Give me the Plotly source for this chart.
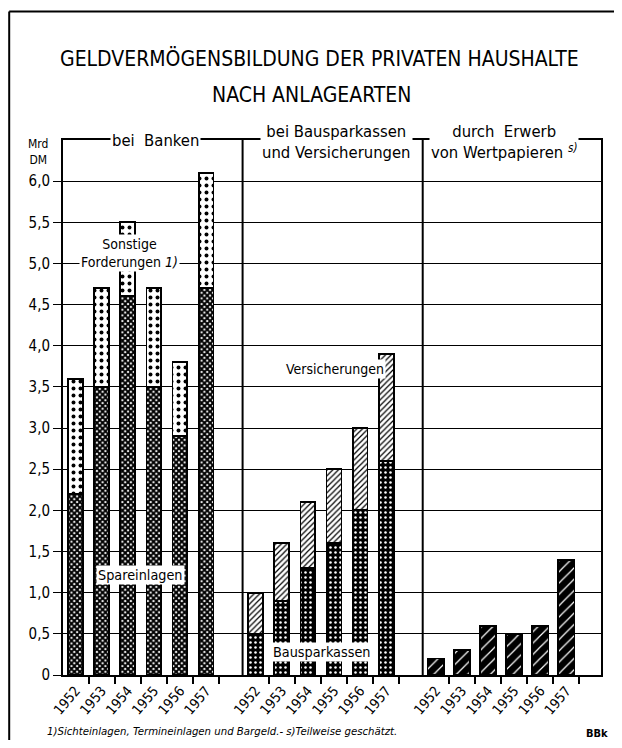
import plotly.graph_objects as go

# ---------------- data ----------------
years = ["1952", "1953", "1954", "1955", "1956", "1957"]
spareinlagen = [2.2, 3.5, 4.6, 3.5, 2.9, 4.7]
sonstige_forderungen = [1.4, 1.2, 0.9, 1.2, 0.9, 1.4]
bausparkassen = [0.5, 0.9, 1.3, 1.6, 2.0, 2.6]
versicherungen = [0.5, 0.7, 0.8, 0.9, 1.0, 1.3]
wertpapiere = [0.2, 0.3, 0.6, 0.5, 0.6, 1.4]
y_tick_values = [0, 0.5, 1.0, 1.5, 2.0, 2.5, 3.0, 3.5, 4.0, 4.5, 5.0, 5.5, 6.0]
y_tick_labels = ["0", "0,5", "1,0", "1,5", "2,0", "2,5", "3,0", "3,5",
                 "4,0", "4,5", "5,0", "5,5", "6,0"]

# ---------------- layout helpers ----------------
group_offsets = [0.0, 6.9, 13.8]
FONT = "DejaVu Sans Condensed, Liberation Sans Narrow, DejaVu Sans, sans-serif"


def positions(g):
    return [group_offsets[g] + i for i in range(len(years))]


pos_bank, pos_mid, pos_wp = positions(0), positions(1), positions(2)
label_pos = pos_bank + pos_mid + pos_wp
tick_pos = [p + 0.5 for p in label_pos]
x_range = [-0.48, 20.13]

W_NARROW = 0.57
W_WIDE = 0.63
outline = dict(color="black", width=1.8)

fig = go.Figure()
fig.add_bar(x=pos_bank, y=spareinlagen, width=W_NARROW, name="Spareinlagen",
            marker=dict(color="white", line=outline,
                        pattern=dict(shape="x", fgcolor="black", bgcolor="white",
                                     size=4, solidity=0.75, fillmode="replace")))
fig.add_bar(x=pos_bank, y=sonstige_forderungen, width=W_NARROW, name="Sonstige Forderungen",
            marker=dict(color="white", line=outline,
                        pattern=dict(shape=".", fgcolor="black", bgcolor="white",
                                     size=7, solidity=0.25, fillmode="replace")))
fig.add_bar(x=pos_mid, y=bausparkassen, width=W_NARROW, name="Bausparkassen",
            marker=dict(color="black", line=outline,
                        pattern=dict(shape=".", fgcolor="white", bgcolor="black",
                                     size=5, solidity=0.2, fillmode="replace")))
fig.add_bar(x=pos_mid, y=versicherungen, width=W_NARROW, name="Versicherungen",
            marker=dict(color="white", line=outline,
                        pattern=dict(shape="/", fgcolor="black", bgcolor="white",
                                     size=4, solidity=0.3, fillmode="replace")))
fig.add_bar(x=pos_wp, y=wertpapiere, width=W_WIDE, name="Wertpapiere",
            marker=dict(color="black", line=outline,
                        pattern=dict(shape="/", fgcolor="white", bgcolor="black",
                                     size=8, solidity=0.15, fillmode="replace")))
# invisible trace so that the tick-mark axis is drawn
fig.add_scatter(x=tick_pos, y=[None] * len(tick_pos), xaxis="x2", mode="markers",
                showlegend=False, hoverinfo="skip")

# the page body has an 8px margin: size the figure so the page does not scroll
fig.update_layout(
    width=606, height=732,
    margin=dict(l=55, r=11, t=132, b=65),
    plot_bgcolor="white", paper_bgcolor="white",
    barmode="stack", showlegend=False,
    font=dict(family=FONT, color="black", size=12),
    xaxis=dict(range=x_range, tickvals=label_pos, ticktext=years * 3, tickangle=-50,
               ticks="", showgrid=False, zeroline=False, showline=True,
               linecolor="black", linewidth=2, mirror=True,
               tickfont=dict(size=14, family=FONT)),
    xaxis2=dict(range=x_range, overlaying="x", anchor="y", side="bottom",
                tickvals=tick_pos, ticks="outside", ticklen=8, tickwidth=1.5,
                tickcolor="black", showticklabels=False, showgrid=False,
                zeroline=False, showline=False),
    yaxis=dict(range=[0, 6.5], tickvals=y_tick_values, ticktext=y_tick_labels,
               ticks="outside", ticklen=8, tickwidth=1, tickcolor="black",
               showgrid=True, gridcolor="black", gridwidth=1, zeroline=False,
               showline=True, linecolor="black", linewidth=2, mirror=True,
               tickfont=dict(size=15, family=FONT)),
)

# group dividers
for off in group_offsets[1:]:
    fig.add_shape(type="line", xref="x", yref="paper", x0=off - 0.5, x1=off - 0.5,
                  y0=0, y1=1, line=dict(color="black", width=2))

# outer frame (top & left)
fig.add_shape(type="line", xref="paper", yref="paper", x0=-0.1, x1=1.05,
              y0=1.24, y1=1.24, line=dict(color="black", width=2))
fig.add_shape(type="line", xref="paper", yref="paper", x0=-0.1, x1=-0.1,
              y0=1.24, y1=-0.2, line=dict(color="black", width=2))


def ann(text, x, y, size=13, bg=None, xanchor="center", **kw):
    fig.add_annotation(text=text, x=x, y=y, xref="paper", yref="paper",
                       showarrow=False, xanchor=xanchor, yanchor="middle",
                       font=dict(family=FONT, size=size, color="black"),
                       bgcolor=bg, borderpad=1, **kw)


# titles
ann("GELDVERMÖGENSBILDUNG DER PRIVATEN HAUSHALTE", 0.477, 1.153, size=21)
ann("NACH ANLAGEARTEN", 0.461, 1.085, size=21)
# group headers
ann("bei  Banken", 0.172, 1.0, size=16.5, bg="white")
ann("bei Bausparkassen<br>und Versicherungen", 0.509, 0.997, size=16.5, bg="white")
ann("durch  Erwerb<br>von Wertpapieren <i><sup>s)</sup></i>", 0.819, 0.997, size=16.5, bg="white")
# unit
ann("Mrd<br>DM", -0.046, 0.978, size=12)
# series labels
ann("Sonstige<br>Forderungen <i>1)</i>", 0.124, 0.789, size=14, bg="white")
ann("Spareinlagen", 0.144, 0.187, size=14.3, bg="white")
ann("Bausparkassen", 0.48, 0.043, size=14.3, bg="white")
ann("Versicherungen", 0.601, 0.572, size=14, bg="white", xanchor="right")
# footnote
ann("<i>1)Sichteinlagen, Termineinlagen und Bargeld.- s)Teilweise geschätzt.</i>",
    -0.033, -0.105, size=11.3, xanchor="left")
ann("<b>BBk</b>", 1.017, -0.11, size=11, xanchor="right")

fig.write_html("out.html")
